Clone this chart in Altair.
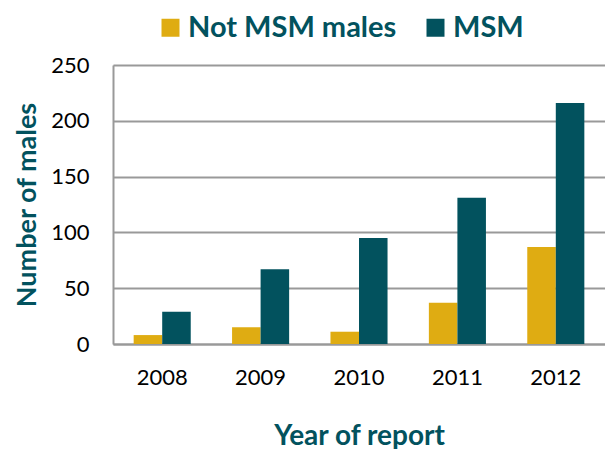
import altair as alt
import pandas as pd

years = ["2008", "2009", "2010", "2011", "2012"]
series = ["Not MSM males", "MSM"]
not_msm = [8, 15, 11, 37, 87]
msm = [29, 67, 95, 131, 216]

gold = "#DFAC12"
teal = "#02525E"

rows = []
for i, yr in enumerate(years):
    rows.append({"year": yr, "group": series[0], "value": not_msm[i]})
    rows.append({"year": yr, "group": series[1], "value": msm[i]})
df = pd.DataFrame(rows)

chart = alt.Chart(df).mark_bar().encode(
    x=alt.X("year:N", sort=years,
            scale=alt.Scale(paddingInner=0.42, paddingOuter=0.21),
            axis=alt.Axis(title="Year of report", labelAngle=0, labelFontSize=22,
                          labelColor="black", titleFontSize=28, titleColor=teal,
                          titleFontWeight="bold", domainColor="#999999", domainWidth=2,
                          ticks=False, labelPadding=23, titlePadding=34)),
    xOffset=alt.XOffset("group:N", sort=series),
    y=alt.Y("value:Q", scale=alt.Scale(domain=[0, 250]),
            axis=alt.Axis(title="Number of males", values=[0, 50, 100, 150, 200, 250],
                          labelFontSize=22, labelColor="black", titleFontSize=27,
                          titleColor=teal, titleFontWeight="bold",
                          domainColor="#999999", domainWidth=2, ticks=False,
                          gridColor="#999999", gridWidth=2, labelPadding=24,
                          titlePadding=9)),
    color=alt.Color("group:N", sort=series,
                    scale=alt.Scale(domain=series, range=[gold, teal]),
                    legend=alt.Legend(title=None, orient="none", legendX=43, legendY=-52,
                                      direction="horizontal", symbolType="square",
                                      symbolSize=324, symbolStrokeWidth=0,
                                      labelFontSize=29, labelFontWeight="bold",
                                      labelColor=teal, labelOffset=3, labelLimit=0,
                                      columnPadding=24, padding=0)),
).properties(
    width=492, height=279,
    padding={"left": 5, "top": 5, "right": 0, "bottom": 5},
).configure_view(stroke=None).configure(font="Lato")

chart.save("out.html", embed_options={"renderer": "svg", "actions": False})
